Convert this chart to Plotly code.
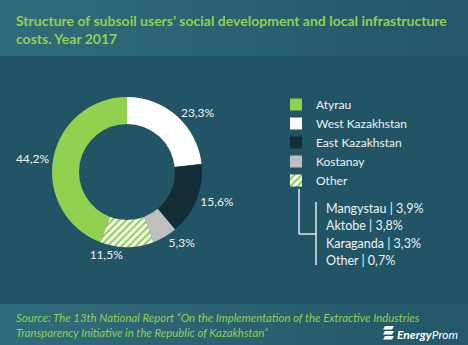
import plotly.graph_objects as go

# ---- data ----
regions = ["Atyrau", "West Kazakhstan", "East Kazakhstan", "Kostanay", "Other"]
shares = [44.2, 23.3, 15.6, 5.3, 11.5]
other_labels = ["Mangystau", "Aktobe", "Karaganda", "Other"]
other_shares = [3.9, 3.8, 3.3, 0.7]

title_text = "Structure of subsoil users’ social development and local infrastructure<br>costs. Year 2017"
source_text = ("Source: The 13th National Report “On the Implementation of the Extractive Industries<br>"
               "Transparency Initiative in the Republic of Kazakhstan”")

# ---- style ----
W, H = 468, 345
BG = "#215566"
GREEN = "#92d050"
colors = [GREEN, "#ffffff", "#132d36", "#bfbfbf", "#ffffff"]
FONT = "Lato"
TXT = "#eef2f3"

cx, cy, R = 127, 172, 75

fig = go.Figure()
fig.add_trace(go.Pie(
    labels=regions, values=shares, sort=False, direction="clockwise",
    rotation=-shares[0] / sum(shares) * 360,
    hole=0.64,
    marker=dict(colors=colors, line=dict(width=0),
                pattern=dict(shape=["", "", "", "", "/"], fgcolor=GREEN, bgcolor="#ffffff",
                             size=5, solidity=0.45, fillmode="replace")),
    texttemplate="%{value:.1f}%", textposition="outside",
    outsidetextfont=dict(color=TXT, size=12, family=FONT),
    domain=dict(x=[(cx - R) / W, (cx + R) / W], y=[(H - cy - R) / H, (H - cy + R) / H]),
    showlegend=True,
))

shapes = []
# header / footer gradient bands
n = 24
c0 = (0x30, 0x6c, 0x7b)
c1 = (0x22, 0x58, 0x68)
for i in range(n):
    t = i / (n - 1)
    col = "rgb(%d,%d,%d)" % tuple(round(a + (b - a) * t) for a, b in zip(c0, c1))
    for y0, y1 in [(0, 56), (304, 345)]:
        shapes.append(dict(type="rect", xref="paper", yref="paper",
                           x0=i / n, x1=(i + 1) / n + 0.002,
                           y0=1 - y1 / H, y1=1 - y0 / H,
                           fillcolor=col, line=dict(width=0), layer="below"))


def px(x):
    return x / W


def py(y):
    return 1 - y / H


# bracket lines for the "Other" breakdown
line = dict(color="#ffffff", width=1.3)
shapes.append(dict(type="line", xref="paper", yref="paper", x0=px(299), x1=px(299), y0=py(189), y1=py(234), line=line))
shapes.append(dict(type="line", xref="paper", yref="paper", x0=px(299), x1=px(316), y0=py(234), y1=py(234), line=line))
shapes.append(dict(type="line", xref="paper", yref="paper", x0=px(316), x1=px(316), y0=py(202), y1=py(265), line=line))

# logo stripes
for k in range(3):
    y = 326 + k * 5
    shapes.append(dict(type="path", xref="paper", yref="paper",
                       path="M {},{} L {},{} L {},{} L {},{} Z".format(
                           px(383), py(y + 3.5), px(392), py(y + 3.5),
                           px(394), py(y), px(385), py(y)),
                       fillcolor="#ffffff", line=dict(width=0)))

annotations = [
    dict(text="<b>" + title_text + "</b>", x=px(14), y=py(10), xref="paper", yref="paper",
         xanchor="left", yanchor="top", align="left", showarrow=False,
         font=dict(family=FONT, size=14, color=GREEN)),
    dict(text="<i>" + source_text + "</i>", x=px(14), y=py(309), xref="paper", yref="paper",
         xanchor="left", yanchor="top", align="left", showarrow=False,
         font=dict(family=FONT, size=11.4, color=GREEN)),
    dict(text="<b><i>Energy</i></b><i>Prom</i>", x=px(395), y=py(334), xref="paper", yref="paper",
         xanchor="left", yanchor="middle", showarrow=False,
         font=dict(family=FONT, size=12, color="#ffffff")),
]
sub_y = [208, 226, 243, 260]
for lab, v, yy in zip(other_labels, other_shares, sub_y):
    annotations.append(dict(text=f"{lab} | {v:.1f}%".replace(".", ","), x=px(324), y=py(yy),
                            xref="paper", yref="paper", xanchor="left", yanchor="middle",
                            showarrow=False, font=dict(family=FONT, size=12.5, color=TXT)))

fig.update_layout(
    width=W, height=H, margin=dict(l=0, r=0, t=0, b=0),
    paper_bgcolor=BG, plot_bgcolor=BG,
    separators=",.",
    shapes=shapes, annotations=annotations,
    legend=dict(x=px(276), y=py(90), xanchor="left", yanchor="top",
                font=dict(family=FONT, size=12, color=TXT),
                bgcolor="rgba(0,0,0,0)", itemclick=False, tracegroupgap=0,
                itemwidth=30),
)
fig.write_html("out.html")
